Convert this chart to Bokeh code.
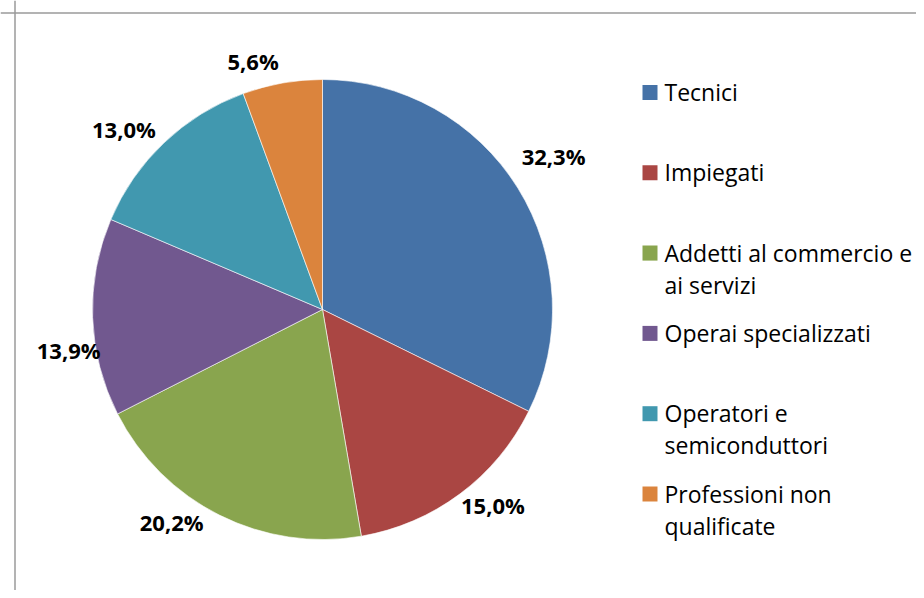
import math
from bokeh.plotting import figure
from bokeh.models import Range1d, Span, ColumnDataSource
from bokeh.core.properties import value
from bokeh.embed import file_html
from bokeh.resources import INLINE

# ---- data ----
categories = [
    "Tecnici",
    "Impiegati",
    "Addetti al commercio e\nai servizi",
    "Operai specializzati",
    "Operatori e\nsemiconduttori",
    "Professioni non\nqualificate",
]
shares = [32.3, 15.0, 20.2, 13.9, 13.0, 5.6]
colors = ["#4572A7", "#AA4643", "#89A54E", "#71588F", "#4198AF", "#DB843D"]

# ---- style / layout ----
W, H = 916, 590
CX, CY, R = 322, 281, 230
LABEL_R = 265
label_nudge = [(6, 14), (12, 17), (-32, 24), (11, -31), (-16, -12), (-23, -12)]
LEG_X, LEG_Y0, LEG_STEP, LEG_LINE = 649.5, 498.5, 80.3, 32

p = figure(width=W, height=H, x_range=Range1d(0, W), y_range=Range1d(0, H),
           output_backend="svg", toolbar_location=None, min_border=0,
           x_axis_location=None, y_axis_location=None)
p.grid.visible = False
p.outline_line_color = None
p.background_fill_color = "white"
p.border_fill_color = "white"

# chart-area border (top and left visible)
p.add_layout(Span(location=H - 12.5, dimension="width", line_color="#9a9a9a", line_width=1.5))
p.add_layout(Span(location=14.5, dimension="height", line_color="#9a9a9a", line_width=1.5))

total = sum(shares)
starts, ends, lx, ly, ltxt = [], [], [], [], []
cum = 0.0
for i, v in enumerate(shares):
    a0 = math.pi / 2 - 2 * math.pi * cum / total
    cum += v
    a1 = math.pi / 2 - 2 * math.pi * cum / total
    starts.append(a0)
    ends.append(a1)
    mid = (a0 + a1) / 2
    lx.append(CX + LABEL_R * math.cos(mid) + label_nudge[i][0])
    ly.append(CY + LABEL_R * math.sin(mid) + label_nudge[i][1])
    ltxt.append(f"{v:.1f}".replace(".", ",") + "%")

src = ColumnDataSource(dict(start=starts, end=ends, color=colors))
p.wedge(x=CX, y=CY, radius=R, start_angle="start", end_angle="end",
        direction="clock", fill_color="color", line_color="white",
        line_width=0.6, source=src)

p.text(x=lx, y=ly, text=ltxt, text_font=value("Open Sans"),
       text_font_style="bold", text_font_size="22px", text_color="black",
       text_align="center", text_baseline="middle")

# legend (drawn manually to allow wrapped labels)
sq_y, tx, ty, tt = [], [], [], []
for i, cat in enumerate(categories):
    y0 = LEG_Y0 - i * LEG_STEP
    sq_y.append(y0 - 0.5)
    for j, line in enumerate(cat.split("\n")):
        tx.append(LEG_X + 14.5)
        ty.append(y0 - j * LEG_LINE)
        tt.append(line)

p.scatter(x=[LEG_X] * len(categories), y=sq_y, marker="square", size=15,
          fill_color=colors, line_color=None)
p.text(x=tx, y=ty, text=tt, text_font=value("Open Sans"),
       text_font_size="23px", text_color="black",
       text_align="left", text_baseline="middle")

open("out.html", "w").write(file_html(p, INLINE))
